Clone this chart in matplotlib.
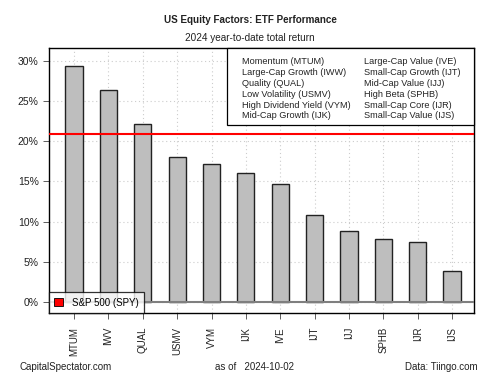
import numpy as np
import matplotlib.pyplot as plt

plt.rcParams['font.family'] = ['Liberation Sans', 'DejaVu Sans']

# ETF tickers and YTD total return (%)
tickers = ['MTUM', 'IWV', 'QUAL', 'USMV', 'VYM', 'IJK', 'IVE', 'IJT', 'IJJ', 'SPHB', 'IJR', 'IJS']
returns = [29.4, 26.35, 22.2, 18.05, 17.15, 16.0, 14.65, 10.8, 8.8, 7.8, 7.45, 3.8]
spy_return = 20.9

legend_left = ['Momentum (MTUM)', 'Large-Cap Growth (IWW)', 'Quality (QUAL)',
               'Low Volatility (USMV)', 'High Dividend Yield (VYM)', 'Mid-Cap Growth (IJK)']
legend_right = ['Large-Cap Value (IVE)', 'Small-Cap Growth (IJT)', 'Mid-Cap Value (IJJ)',
                'High Beta (SPHB)', 'Small-Cap Core (IJR)', 'Small-Cap Value (IJS)']
yticks = [0, 5, 10, 15, 20, 25, 30]

W, H = 500, 375
fig = plt.figure(figsize=(5, 3.75), dpi=100)
ax = fig.add_axes([49/W, 1-313/H, 425/W, 265/H])

x = np.arange(len(tickers))
ax.grid(True, color='#cccccc', linestyle=(0, (1, 2.5)), linewidth=0.8)
ax.set_axisbelow(True)
ax.bar(x, returns, width=0.5, color='#bebebe', edgecolor='#222222', linewidth=1.0, zorder=2)
ax.axhline(0, color='#7f7f7f', linewidth=1.5, zorder=3)
ax.axhline(spy_return, color='#ff0000', linewidth=1.5, zorder=4)

ax.set_xlim(-0.73, 11.64)
ax.set_ylim(-1.37, 31.6)
ax.set_xticks(x)
ax.set_xticklabels(tickers, rotation=90, fontsize=7, color='#222222')
ax.set_yticks(yticks)
ax.set_yticklabels([f'{v}%' for v in yticks], fontsize=7.5, color='#222222')
ax.tick_params(axis='both', length=4, width=0.6, color='#444444')
ax.tick_params(axis='x', pad=6)
for s in ax.spines.values():
    s.set_linewidth(1.0)

# factor legend box (text only)
box = plt.Rectangle((227/W, 1-125/H), 247/W, 77/H, transform=fig.transFigure,
                    facecolor='white', edgecolor='black', linewidth=0.9, zorder=5)
fig.add_artist(box)
for i, (a, b) in enumerate(zip(legend_left, legend_right)):
    yy = 1 - (62 + i*10.8)/H
    fig.text(242/W, yy, a, ha='left', va='center', fontsize=6.6, color='#222222', zorder=6)
    fig.text(364/W, yy, b, ha='left', va='center', fontsize=6.6, color='#222222', zorder=6)

# S&P 500 legend box
spy_h = plt.Rectangle((0, 0), 1, 1, facecolor='#ff0000', edgecolor='black', linewidth=0.6)
leg2 = ax.legend([spy_h], ['S&P 500 (SPY)'], loc='lower left', fontsize=7,
                 frameon=True, fancybox=False, edgecolor='black', borderaxespad=0,
                 handlelength=0.9, handleheight=0.9, borderpad=0.55, handletextpad=0.9)
leg2.get_frame().set_linewidth(0.9)
leg2.set_zorder(5)

fig.text(0.5, 1-20/H, 'US Equity Factors: ETF Performance', ha='center', va='center',
         fontsize=7.1, fontweight='bold', color='#222222')
fig.text(0.5, 1-38/H, '2024 year-to-date total return', ha='center', va='center',
         fontsize=7.2, color='#222222')
fig.text(20/W, 1-367/H, 'CapitalSpectator.com', ha='left', va='center', fontsize=7, color='#222222')
fig.text(215/W, 1-367/H, 'as of   2024-10-02', ha='left', va='center', fontsize=7, color='#222222')
fig.text(478/W, 1-367/H, 'Data: Tiingo.com', ha='right', va='center', fontsize=7, color='#222222')

fig.savefig('out.png', dpi=100)
